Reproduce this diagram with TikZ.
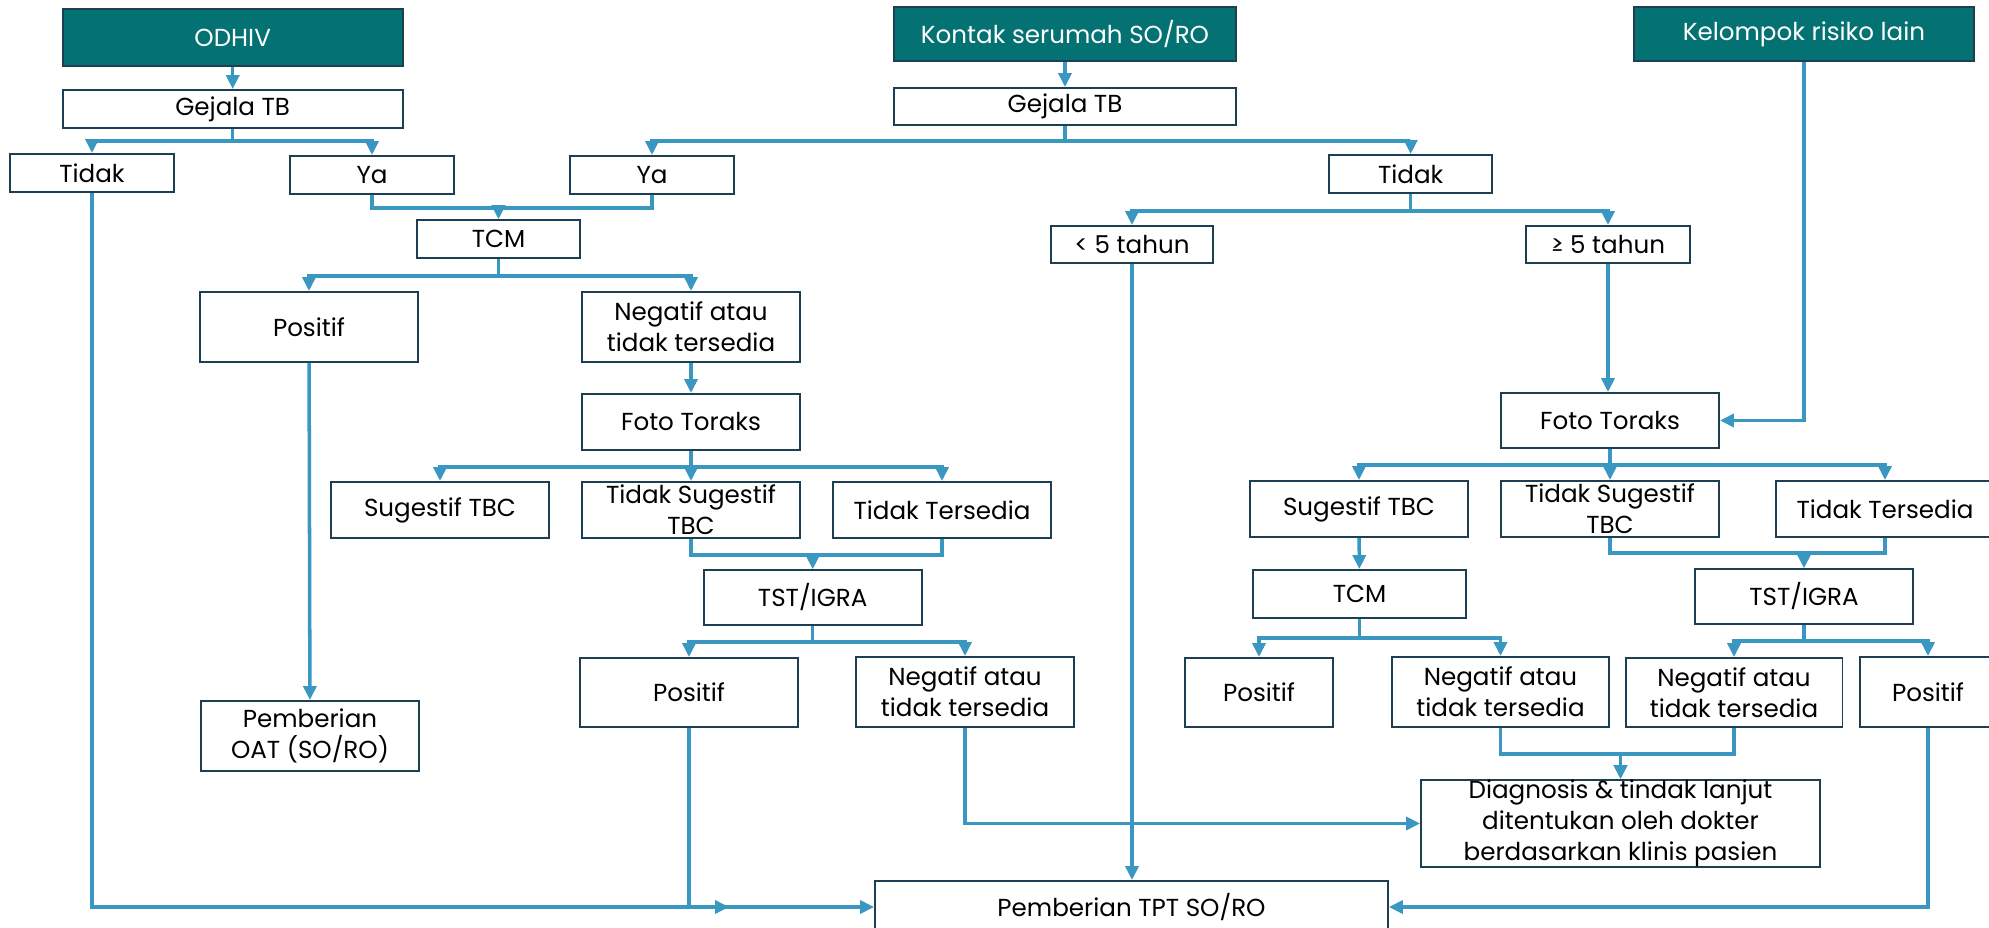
\documentclass[tikz,border=0pt]{standalone}
\usepackage{fontspec}
\setmainfont{Poppins}
\usetikzlibrary{arrows.meta}
\definecolor{tealhead}{HTML}{047272}
\definecolor{boxline}{HTML}{1E3F52}
\definecolor{linkblue}{HTML}{3A97C1}
\begin{document}
\begin{tikzpicture}[x=0.02cm, y=-0.02cm, line width=2pt,
        >={Triangle[length=0.28cm, width=0.26cm]},
        font=\fontsize{14}{17.5}\selectfont,
        box/.style = {rectangle, draw=boxline, line width=1.1pt, fill=white, inner sep=0pt, align=center, text=black},
        head/.style = {box, fill=tealhead, text=white},
        link/.style = {draw=linkblue, line width=2pt}]
    \useasboundingbox (0,0) rectangle (1989,928);
    \fill[white] (0,0) rectangle (1989,928);
    % starting groups
    \node[head, minimum width=6.8cm, minimum height=1.14cm] (odhiv) at (232.7,37.5) {ODHIV};
    \node[head, minimum width=6.84cm, minimum height=1.08cm] (kontak) at (1065,34) {Kontak serumah SO/RO};
    \node[head, minimum width=6.8cm, minimum height=1.08cm] (kel) at (1804,34) {Kelompok risiko lain};
    \node[box, minimum width=6.8cm, minimum height=0.76cm] (gjL) at (232.7,109) {Gejala TB};
    \node[box, minimum width=6.84cm, minimum height=0.74cm] (gjM) at (1065,106.5) {Gejala TB};
    \node[box, minimum width=3.28cm, minimum height=0.76cm] (tdL) at (92,173) {Tidak};
    \node[box, minimum width=3.28cm, minimum height=0.76cm] (yaL) at (372,175) {Ya};
    \node[box, minimum width=3.28cm, minimum height=0.76cm] (yaM) at (652,175) {Ya};
    \node[box, minimum width=3.26cm, minimum height=0.76cm] (tdR) at (1410.7,174) {Tidak};
    \node[box, minimum width=3.26cm, minimum height=0.76cm] (tcmL) at (498.5,239) {TCM};
    \node[box, minimum width=3.24cm, minimum height=0.74cm] (lt5) at (1132,244.5) {< 5 tahun};
    \node[box, minimum width=3.28cm, minimum height=0.74cm] (ge5) at (1608,244.5) {≥ 5 tahun};
    % ODHIV and household branch
    \node[box, minimum width=4.36cm, minimum height=1.4cm] (psL) at (309,327) {Positif};
    \node[box, minimum width=4.36cm, minimum height=1.4cm] (ngL) at (691,327) {Negatif atau\\tidak tersedia};
    \node[box, minimum width=4.36cm, minimum height=1.4cm] (oat) at (310,736) {Pemberian\\OAT (SO/RO)};
    \node[box, minimum width=4.36cm, minimum height=1.12cm] (ft1) at (691,422) {Foto Toraks};
    \node[box, minimum width=4.36cm, minimum height=1.12cm] (sg1) at (440,510) {Sugestif TBC};
    \node[box, minimum width=4.36cm, minimum height=1.12cm] (ts1) at (691,510) {Tidak Sugestif\\TBC};
    \node[box, minimum width=4.36cm, minimum height=1.12cm] (tt1) at (942,510) {Tidak Tersedia};
    \node[box, minimum width=4.36cm, minimum height=1.1cm] (tst1) at (812.7,597.5) {TST/IGRA};
    \node[box, minimum width=4.36cm, minimum height=1.38cm] (ps2) at (689,692.5) {Positif};
    \node[box, minimum width=4.36cm, minimum height=1.4cm] (ng2) at (965,692) {Negatif atau\\tidak tersedia};
    % older contacts and other risk groups
    \node[box, minimum width=4.36cm, minimum height=1.1cm] (ft2) at (1610,420.5) {Foto Toraks};
    \node[box, minimum width=4.36cm, minimum height=1.12cm] (sg2) at (1359,509) {Sugestif TBC};
    \node[box, minimum width=4.36cm, minimum height=1.12cm] (ts2) at (1610,509) {Tidak Sugestif\\TBC};
    \node[box, minimum width=4.36cm, minimum height=1.12cm] (tt2) at (1885,509) {Tidak Tersedia};
    \node[box, minimum width=4.26cm, minimum height=0.96cm] (tcmR) at (1359.5,594) {TCM};
    \node[box, minimum width=4.36cm, minimum height=1.1cm] (tst2) at (1804,596.5) {TST/IGRA};
    \node[box, minimum width=2.96cm, minimum height=1.38cm] (ps3) at (1259,692.5) {Positif};
    \node[box, minimum width=4.34cm, minimum height=1.4cm] (ng3) at (1500.5,692) {Negatif atau\\tidak tersedia};
    \node[box, minimum width=4.34cm, minimum height=1.38cm] (ng4) at (1734,692.5) {Negatif atau\\tidak tersedia};
    \node[box, minimum width=2.72cm, minimum height=1.4cm] (ps4) at (1928,692) {Positif};
    \node[box, minimum width=7.98cm, minimum height=1.74cm] (dx) at (1620.5,823.5) {Diagnosis \& tindak lanjut\\ditentukan oleh dokter\\berdasarkan klinis pasien};
    \node[box, minimum width=10.26cm, minimum height=1.04cm] (tpt) at (1131.5,907) {Pemberian TPT SO/RO};
    \coordinate (p2end) at (729,907);
    % connectors
    \draw[link, ->] (odhiv) -- (gjL);
    \draw[link, ->] (kontak) -- (gjM);
    \draw[link, ->] (gjL.south) -- ++(0,12) -| (tdL.north);
    \draw[link, ->] (gjL.south) -- ++(0,12) -| (yaL.north);
    \draw[link, ->] (gjM.south) -- ++(0,15) -| (yaM.north);
    \draw[link, ->] (gjM.south) -- ++(0,15) -| (tdR.north);
    \draw[link, ->] (yaL.south) -- ++(0,13) -| (tcmL.north);
    \draw[link, ->] (yaM.south) -- ++(0,13) -| (tcmL.north);
    \draw[link, ->] (tcmL.south) -- ++(0,17) -| (psL.north);
    \draw[link, ->] (tcmL.south) -- ++(0,17) -| (ngL.north);
    \draw[link, ->] (psL) -- (oat);
    \draw[link, ->] (ngL) -- (ft1);
    \draw[link, ->] (ft1.south) -- ++(0,16) -| (sg1.north);
    \draw[link, ->] (ft1) -- (ts1);
    \draw[link, ->] (ft1.south) -- ++(0,16) -| (tt1.north);
    \draw[link, ->] (ts1.south) -- ++(0,16) -| (tst1.north);
    \draw[link, ->] (tt1.south) -- ++(0,16) -| (tst1.north);
    \draw[link, ->] (tst1.south) -- ++(0,16) -| (ps2.north);
    \draw[link, ->] (tst1.south) -- ++(0,16) -| (ng2.north);
    \draw[link, ->] (ps2.south) |- (p2end);
    \draw[link, ->] (tdL.south) |- (tpt.west);
    \draw[link, ->] (ng2.south) |- (dx.west);
    \draw[link, ->] (tdR.south) -- ++(0,17) -| (lt5.north);
    \draw[link, ->] (tdR.south) -- ++(0,17) -| (ge5.north);
    \draw[link, ->] (lt5.south) -- (lt5.south |- tpt.north);
    \draw[link, ->] (ge5.south) -- (ge5.south |- ft2.north);
    \draw[link, ->] (kel.south) |- (ft2.east);
    \draw[link, ->] (ft2.south) -- ++(0,16) -| (sg2.north);
    \draw[link, ->] (ft2) -- (ts2);
    \draw[link, ->] (ft2.south) -- ++(0,16) -| (tt2.north);
    \draw[link, ->] (sg2) -- (tcmR);
    \draw[link, ->] (ts2.south) -- ++(0,15) -| (tst2.north);
    \draw[link, ->] (tt2.south) -- ++(0,15) -| (tst2.north);
    \draw[link, ->] (tcmR.south) -- ++(0,19) -| (ps3.north);
    \draw[link, ->] (tcmR.south) -- ++(0,19) -| (ng3.north);
    \draw[link, ->] (tst2.south) -- ++(0,16) -| (ng4.north);
    \draw[link, ->] (tst2.south) -- ++(0,16) -| (ps4.north);
    \draw[link, ->] (ng3.south) -- ++(0,26) -| (dx.north);
    \draw[link, ->] (ng4.south) -- ++(0,26) -| (dx.north);
    \draw[link, ->] (ps4.south) |- (tpt.east);
\end{tikzpicture}
\end{document}
